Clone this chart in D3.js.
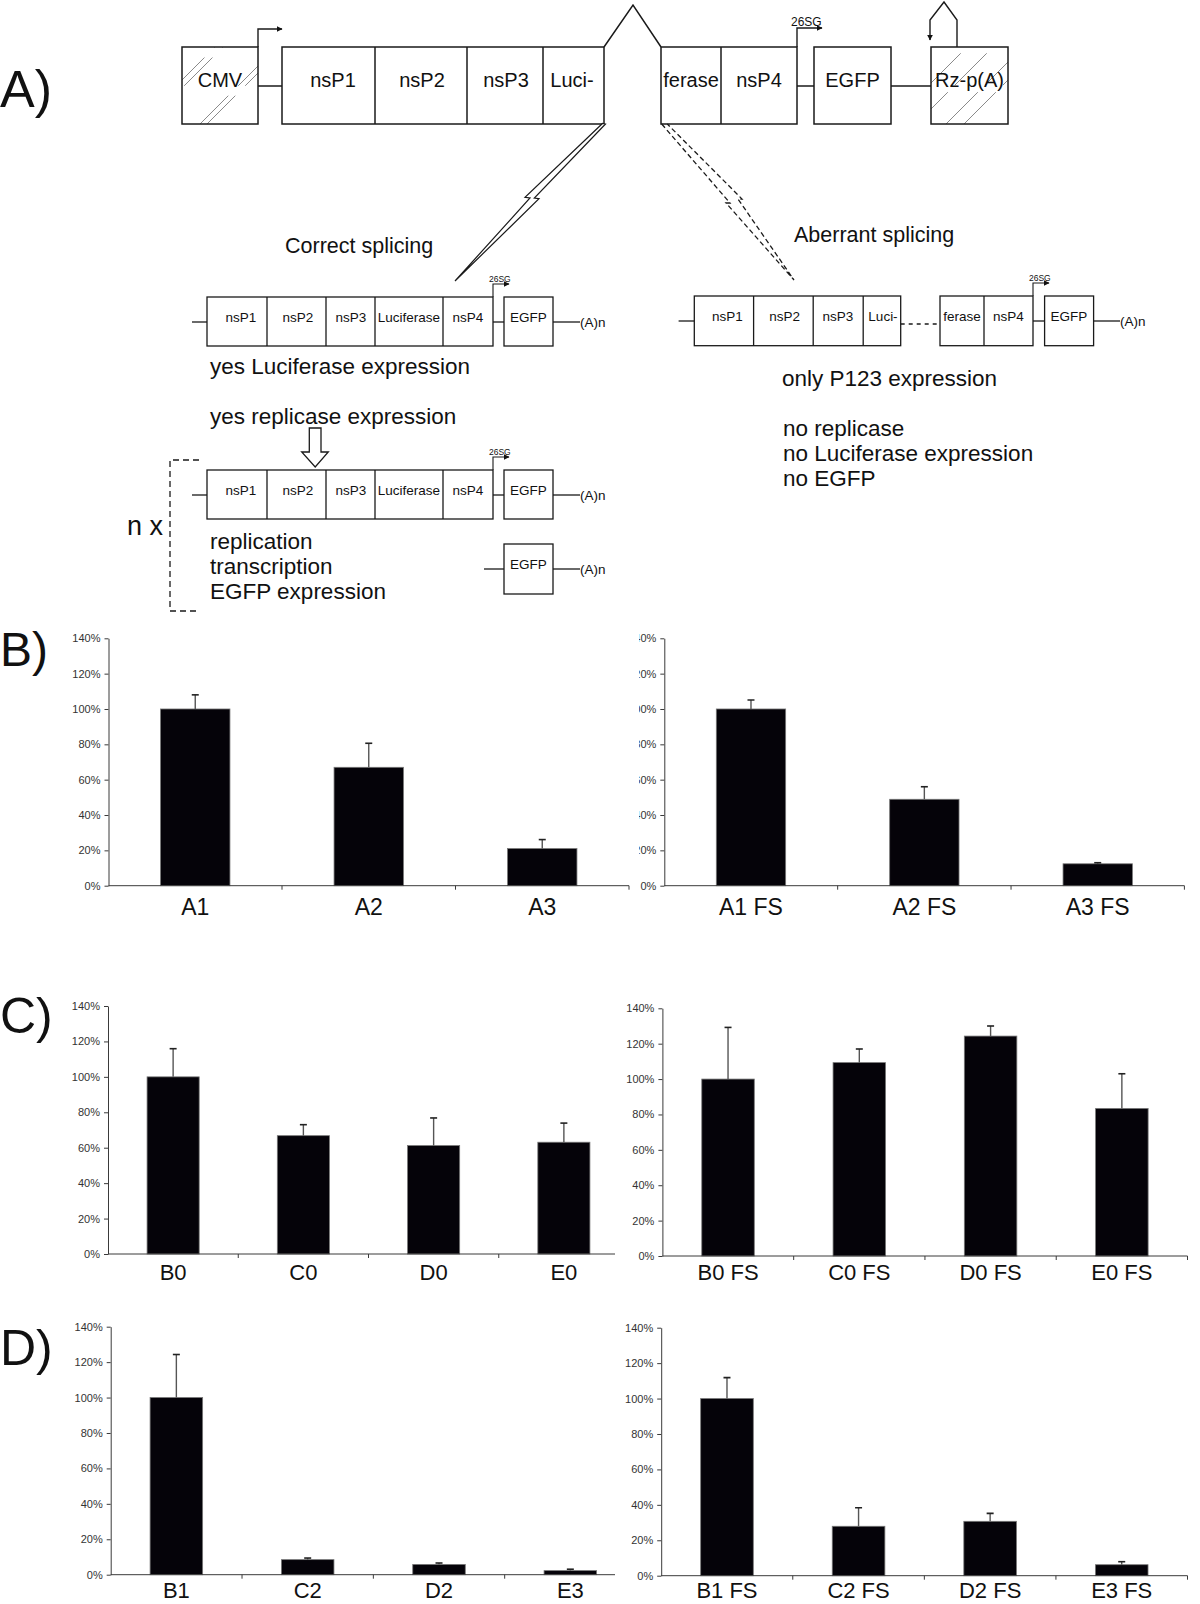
<!DOCTYPE html>
<html><head><meta charset="utf-8">
<script src="https://cdn.jsdelivr.net/npm/d3@7"></script>
<style>
body{margin:0;background:#fff}
svg{display:block}
text{font-family:"Liberation Sans",Arial,Helvetica,sans-serif}
</style>
</head><body>
<svg id="c" width="1200" height="1604"></svg>
<script>
// ---------- DATA ----------
const yTicks = [0, 20, 40, 60, 80, 100, 120, 140];
const catsB1 = ["A1", "A2", "A3"];
const valsB1 = [100, 67, 21];
const errB1  = [8, 13.6, 5.1];
const catsB2 = ["A1 FS", "A2 FS", "A3 FS"];
const valsB2 = [100, 48.9, 12.4];
const errB2  = [5.1, 7.1, 0.6];
const catsC1 = ["B0", "C0", "D0", "E0"];
const valsC1 = [100, 66.8, 61.2, 63.1];
const errC1  = [15.9, 6.2, 15.6, 10.8];
const catsC2 = ["B0 FS", "C0 FS", "D0 FS", "E0 FS"];
const valsC2 = [100, 109.3, 124.3, 83.4];
const errC2  = [29.2, 7.7, 5.7, 19.6];
const catsD1 = ["B1", "C2", "D2", "E3"];
const valsD1 = [100, 8.5, 5.8, 2.3];
const errD1  = [24.3, 0.9, 0.8, 0.8];
const catsD2 = ["B1 FS", "C2 FS", "D2 FS", "E3 FS"];
const valsD2 = [100, 27.9, 30.7, 6.2];
const errD2  = [11.8, 10.5, 4.5, 1.7];
const boxLabelsTop = ["nsP1", "nsP2", "nsP3", "Luci-"];
const boxLabelsFull = ["nsP1", "nsP2", "nsP3", "Luciferase", "nsP4"];

// ---------- SETUP ----------
const svg = d3.select("#c");
svg.append("rect").attr("width", 1200).attr("height", 1604).attr("fill", "#fff");
const defs = svg.append("defs");
defs.append("marker").attr("id", "arr").attr("viewBox", "0 0 10 10")
  .attr("refX", 9).attr("refY", 5).attr("markerWidth", 6).attr("markerHeight", 6)
  .attr("markerUnits", "userSpaceOnUse").attr("orient", "auto")
  .append("path").attr("d", "M0,0 L10,5 L0,10 z").attr("fill", "#111");

const ink = "#1a1a1a";
function rect(g, x, y, w, h, sw) {
  return g.append("rect").attr("x", x).attr("y", y).attr("width", w).attr("height", h)
    .attr("fill", "none").attr("stroke", ink).attr("stroke-width", sw || 1.5);
}
function line(g, x1, y1, x2, y2, sw, dash) {
  const l = g.append("line").attr("x1", x1).attr("y1", y1).attr("x2", x2).attr("y2", y2)
    .attr("stroke", ink).attr("stroke-width", sw || 1.5);
  if (dash) l.attr("stroke-dasharray", dash);
  return l;
}
function txt(g, x, y, s, size, anchor, fill) {
  return g.append("text").attr("x", x).attr("y", y).text(s)
    .attr("font-size", size).attr("text-anchor", anchor || "start").attr("fill", fill || "#111");
}
function hatch(g, x, y, w, h, id, cs, dash) {
  defs.append("clipPath").attr("id", id).append("rect")
    .attr("x", x).attr("y", y).attr("width", w).attr("height", h);
  const hg = g.append("g").attr("clip-path", `url(#${id})`);
  cs.forEach(c => {
    hg.append("line").attr("x1", c - y - h).attr("y1", y + h).attr("x2", c - y).attr("y2", y)
      .attr("stroke", "#8a8a8a").attr("stroke-width", 1).attr("stroke-dasharray", dash);
  });
}

// ---------- PANEL A: DIAGRAM ----------
const A = svg.append("g");
txt(A, 0, 107, "A)", 52);

// top construct
hatch(A, 182, 47, 76, 77, "hcmv", [262, 270, 324, 331], "40,14");
rect(A, 182, 47, 76, 77);
txt(A, 220, 87, "CMV", 20, "middle");
A.append("path").attr("d", "M258,47 V29 H282").attr("fill", "none").attr("stroke", ink)
  .attr("stroke-width", 1.4).attr("marker-end", "url(#arr)");
line(A, 258, 86, 282, 86);
rect(A, 282, 47, 322, 77);
[375, 467, 543].forEach(x => line(A, x, 47, x, 124));
const topCenters = [333, 422, 506, 572];
boxLabelsTop.forEach((s, i) => txt(A, topCenters[i], 87, s, 20, "middle"));
A.append("path").attr("d", "M604,47 L633,5 L661,47").attr("fill", "none").attr("stroke", ink).attr("stroke-width", 1.5);
rect(A, 661, 47, 136, 77);
line(A, 721, 47, 721, 124);
txt(A, 691, 87, "ferase", 20, "middle");
txt(A, 759, 87, "nsP4", 20, "middle");
A.append("path").attr("d", "M797,47 V28 H822").attr("fill", "none").attr("stroke", ink)
  .attr("stroke-width", 1.4).attr("marker-end", "url(#arr)");
txt(A, 791, 26, "26SG", 12);
line(A, 797, 86, 814, 86);
rect(A, 814, 47, 77, 77);
txt(A, 852.5, 87, "EGFP", 20, "middle");
line(A, 891, 86, 931, 86);
hatch(A, 931, 47, 77, 77, "hrz", [1014, 1040, 1070, 1088], "45,10");
rect(A, 931, 47, 77, 77);
txt(A, 969.5, 87, "Rz-p(A)", 20, "middle");
A.append("path").attr("d", "M957,47 V20 L944,2 L930,20 V40").attr("fill", "none").attr("stroke", ink)
  .attr("stroke-width", 1.4).attr("marker-end", "url(#arr)");

// splice arrows
A.append("path").attr("d", "M602.7,123.3 L525,197.3 L530,198 L455,281 L539,198.7 L534.3,198 L605.5,124 Z")
  .attr("fill", "#fff").attr("stroke", ink).attr("stroke-width", 1.2);
A.append("path").attr("d", "M661.7,124 L730,203 L726,203 L794,280 L738,199 L742,199 L667.3,124")
  .attr("fill", "none").attr("stroke", ink).attr("stroke-width", 1.3).attr("stroke-dasharray", "5,3");

txt(A, 285, 253, "Correct splicing", 21.5);
txt(A, 794, 241.7, "Aberrant splicing", 21.5);

// full construct row
function fullRow(y) {
  line(A, 192, y + 25, 207, y + 25, 1.3);
  rect(A, 207, y, 286, 49, 1.3);
  [267, 326, 375, 443].forEach(x => line(A, x, y, x, y + 49, 1.3));
  const cx = [241, 298, 351, 409, 468];
  boxLabelsFull.forEach((s, i) => txt(A, cx[i], y + 24.7, s, 13.5, "middle"));
  A.append("path").attr("d", `M493,${y} V${y - 13} H509`).attr("fill", "none").attr("stroke", ink)
    .attr("stroke-width", 1.1).attr("marker-end", "url(#arr)");
  txt(A, 489, y - 15, "26SG", 8.5);
  line(A, 493, y + 25, 504, y + 25, 1.3);
  rect(A, 504, y, 49, 49, 1.3);
  txt(A, 528.5, y + 24.7, "EGFP", 13.5, "middle");
  line(A, 553, y + 25, 580, y + 25, 1.3);
  txt(A, 580, y + 29.5, "(A)n", 13.5);
}
fullRow(297);
fullRow(470);

txt(A, 210, 374, "yes Luciferase expression", 22.5);
txt(A, 210, 424, "yes replicase expression", 22.5);
// hollow block arrow
A.append("path").attr("d", "M309.3,428 H321 V452 H328.3 L315.2,467 L301.7,452 H309.3 Z")
  .attr("fill", "#fff").attr("stroke", ink).attr("stroke-width", 1.3);

// bracket
A.append("path").attr("d", "M199,460 H170 V611 H200").attr("fill", "none").attr("stroke", ink)
  .attr("stroke-width", 1.3).attr("stroke-dasharray", "6,4");
txt(A, 127, 535, "n x", 27);
txt(A, 210, 549, "replication", 22.5);
txt(A, 210, 574, "transcription", 22.5);
txt(A, 210, 599, "EGFP expression", 22.5);
// sub-genomic EGFP
line(A, 484, 569, 504, 569, 1.3);
rect(A, 504, 544, 49, 50, 1.3);
txt(A, 528.5, 569, "EGFP", 13.5, "middle");
line(A, 553, 569, 580, 569, 1.3);
txt(A, 580, 574, "(A)n", 13.5);

// aberrant row
(function () {
  const y = 296;
  line(A, 678.6, y + 25, 694.3, y + 25, 1.3);
  rect(A, 694.3, y, 206.4, 49.7, 1.3);
  [753.6, 813.2, 863.2].forEach(x => line(A, x, y, x, y + 49.7, 1.3));
  const cx = [727.5, 784.6, 838, 883];
  boxLabelsTop.forEach((s, i) => txt(A, cx[i], y + 24.7, s, 13.5, "middle"));
  line(A, 900.7, y + 28, 940, y + 28, 1.6, "4,4");
  rect(A, 940, y, 93, 49.7, 1.3);
  line(A, 984, y, 984, y + 49.7, 1.3);
  txt(A, 962, y + 24.7, "ferase", 13.5, "middle");
  txt(A, 1008.5, y + 24.7, "nsP4", 13.5, "middle");
  A.append("path").attr("d", `M1033,${y} V${y - 13} H1049`).attr("fill", "none").attr("stroke", ink)
    .attr("stroke-width", 1.1).attr("marker-end", "url(#arr)");
  txt(A, 1029, y - 15, "26SG", 8.5);
  line(A, 1033, y + 25, 1044.6, y + 25, 1.3);
  rect(A, 1044.6, y, 49, 49.7, 1.3);
  txt(A, 1069, y + 24.7, "EGFP", 13.5, "middle");
  line(A, 1093.6, y + 25, 1120, y + 25, 1.3);
  txt(A, 1120, y + 29.5, "(A)n", 13.5);
})();
txt(A, 782, 386, "only P123 expression", 22.5);
txt(A, 783, 436, "no replicase", 22.5);
txt(A, 783, 461, "no Luciferase expression", 22.5);
txt(A, 783, 486, "no EGFP", 22.5);

// ---------- BAR PANELS ----------
function panel(cats, vals, errs, o) {
  const g = svg.append("g");
  if (o.clipX !== undefined) {
    const id = "cl" + Math.round(o.y0);
    defs.append("clipPath").attr("id", id).append("rect")
      .attr("x", o.clipX).attr("y", o.y140 - 15).attr("width", 1200 - o.clipX).attr("height", 1604);
    g.attr("clip-path", `url(#${id})`);
    g.append("rect").attr("x", o.clipX).attr("y", o.y140 - 15).attr("width", 1200 - o.clipX)
      .attr("height", o.labelY - o.y140 + 25).attr("fill", "#fff");
  }
  const x = d3.scaleBand().domain(cats).range([o.x0, o.x1]).paddingInner(0.6).paddingOuter(0.3);
  const y = d3.scaleLinear().domain([0, 140]).range([o.y0, o.y140]);
  const data = cats.map((c, i) => ({ c, v: vals[i], e: errs[i] }));
  // y axis
  const ya = g.append("g").attr("transform", `translate(${o.x0},0)`)
    .call(d3.axisLeft(y).tickValues(yTicks).tickFormat(d => d + "%").tickSize(4).tickSizeOuter(0).tickPadding(4));
  ya.select(".domain").attr("stroke", "#3a3a3a");
  ya.selectAll(".tick line").attr("stroke", "#3a3a3a");
  ya.selectAll(".tick text").attr("font-size", 11).attr("fill", "#333")
    .attr("font-family", '"Liberation Sans",Arial,sans-serif');
  // bars
  g.selectAll(".bar").data(data).join("rect")
    .attr("x", d => x(d.c)).attr("width", x.bandwidth())
    .attr("y", d => y(d.v)).attr("height", d => y(0) - y(d.v))
    .attr("fill", "#050309").attr("stroke", "#777").attr("stroke-width", 0.8);
  // error bars
  const cx = d => x(d.c) + x.bandwidth() / 2;
  g.selectAll(".eb").data(data).join("line")
    .attr("x1", cx).attr("x2", cx).attr("y1", d => y(d.v)).attr("y2", d => y(d.v + d.e))
    .attr("stroke", "#555").attr("stroke-width", 1.4);
  g.selectAll(".ec").data(data).join("line")
    .attr("x1", d => cx(d) - 3.5).attr("x2", d => cx(d) + 3.5)
    .attr("y1", d => y(d.v + d.e)).attr("y2", d => y(d.v + d.e))
    .attr("stroke", "#222").attr("stroke-width", 1.6);
  // x axis
  g.append("line").attr("x1", o.x0).attr("x2", o.x1).attr("y1", o.y0).attr("y2", o.y0)
    .attr("stroke", "#3a3a3a").attr("stroke-width", 1);
  const bounds = d3.range(1, cats.length + 1).map(i => o.x0 + i * x.step());
  g.selectAll(".xt").data(bounds).join("line")
    .attr("x1", d => d).attr("x2", d => d).attr("y1", o.y0).attr("y2", o.y0 + 4)
    .attr("stroke", "#3a3a3a");
  g.selectAll(".xl").data(data).join("text")
    .attr("x", cx).attr("y", o.labelY).attr("text-anchor", "middle")
    .attr("font-size", o.fs).attr("fill", "#111").text(d => d.c);
  return g;
}

txt(svg, 0, 666, "B)", 48);
panel(catsB1, valsB1, errB1, { x0: 108.5, x1: 629, y0: 885.7, y140: 638.3, labelY: 915, fs: 23 });
panel(catsB2, valsB2, errB2, { x0: 664.3, x1: 1184.4, y0: 885.7, y140: 638.3, labelY: 915, fs: 23, clipX: 639 });

txt(svg, 0, 1033, "C)", 50);
panel(catsC1, valsC1, errC1, { x0: 108, x1: 629, y0: 1254, y140: 1006, labelY: 1280, fs: 22 });
panel(catsC2, valsC2, errC2, { x0: 662.4, x1: 1187.5, y0: 1256, y140: 1008.3, labelY: 1280, fs: 22, clipX: 615 });

txt(svg, 0, 1365, "D)", 50);
panel(catsD1, valsD1, errD1, { x0: 110.7, x1: 636, y0: 1574.7, y140: 1326.7, labelY: 1598, fs: 22 });
panel(catsD2, valsD2, errD2, { x0: 661.2, x1: 1187.5, y0: 1575.7, y140: 1327.7, labelY: 1598, fs: 22, clipX: 615 });
</script>
</body></html>
